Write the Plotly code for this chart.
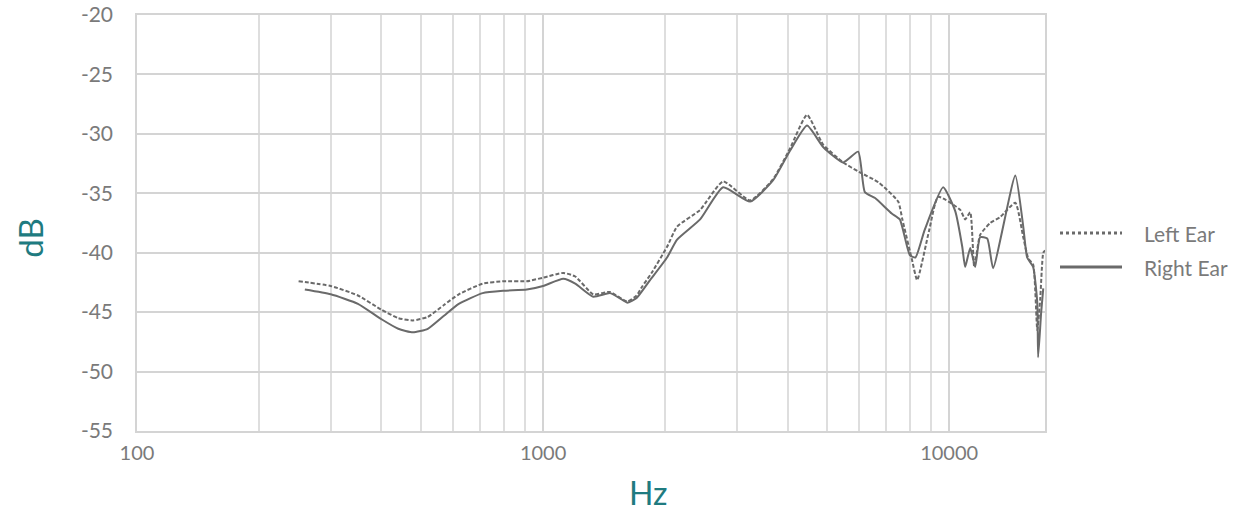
import plotly.graph_objects as go

# Frequency (Hz) and level (dB)
left_freq = [250, 300, 350, 400, 440, 478, 520, 570, 620, 710, 800, 912, 1000, 1121, 1200,
             1329, 1461, 1611, 1700, 1750, 1850, 2020, 2138, 2436, 2776, 3235, 3686, 4059,
             4468, 4893, 5480, 6000, 6710, 7490, 7670, 8100, 8340, 8930, 9397, 10650, 10950,
             11270, 11530, 11920, 12620, 13360, 14550, 15220, 15670, 16100, 16480, 16750,
             17050, 17230]
left_db = [-42.4, -42.8, -43.6, -44.8, -45.5, -45.7, -45.4, -44.4, -43.5, -42.6, -42.4, -42.4,
           -42.1, -41.7, -42.0, -43.5, -43.3, -44.1, -43.6, -42.9, -41.7, -39.5, -37.8, -36.4,
           -34.0, -35.6, -33.8, -31.2, -28.4, -30.9, -32.4, -33.2, -34.1, -35.7, -37.2, -40.6,
           -42.3, -38.1, -35.3, -36.4, -37.2, -36.6, -41.2, -38.5, -37.5, -37.0, -35.8, -38.7,
           -40.5, -41.0, -46.5, -44.0, -40.0, -39.8]

right_freq = [259, 300, 350, 400, 440, 478, 520, 570, 620, 710, 800, 912, 1000, 1121, 1200,
              1329, 1461, 1540, 1611, 1700, 1834, 2020, 2138, 2436, 2776, 3235, 3686, 4059,
              4468, 4893, 5480, 5970, 6200, 6570, 7220, 7560, 8000, 8260, 8700, 9664, 10350,
              10770, 10950, 11270, 11590, 11920, 12410, 12830, 14550, 15220, 15560, 16100,
              16480, 16560, 16850, 17050]
right_db = [-43.1, -43.5, -44.3, -45.6, -46.4, -46.7, -46.4, -45.3, -44.3, -43.4, -43.2, -43.1,
            -42.8, -42.2, -42.6, -43.7, -43.4, -43.8, -44.2, -43.8, -42.3, -40.4, -38.9, -37.2,
            -34.5, -35.7, -33.9, -31.4, -29.3, -31.1, -32.4, -31.5, -34.9, -35.4, -36.7, -37.2,
            -40.2, -40.4, -38.1, -34.5, -36.5, -39.5, -41.2, -39.6, -41.2, -38.7, -38.8, -41.3,
            -33.5, -37.8, -40.4, -41.2, -44.2, -48.8, -45.0, -43.0]

x_ticks = [100, 1000, 10000]
x_minor = [200, 300, 400, 500, 600, 700, 800, 900, 2000, 3000, 4000, 5000, 6000, 7000,
           8000, 9000]
y_ticks = [-20, -25, -30, -35, -40, -45, -50, -55]
y_labels = ["-20", "-25", "-30", "-35", "-40", "-45", "-50", "-55"]
series_names = ["Left Ear", "Right Ear"]

LINE = "#6a6a6a"
GRID = "#d4d4d4"
TEAL = "#1f7b80"
TXT = "#7a7a7a"
FONT = "Lato"

fig = go.Figure()
fig.add_trace(go.Scatter(x=left_freq, y=left_db, mode="lines", name=series_names[0],
                         line=dict(color=LINE, width=2, dash="4px,2px", shape="spline",
                                   smoothing=0.5), showlegend=False))
fig.add_trace(go.Scatter(x=right_freq, y=right_db, mode="lines", name=series_names[1],
                         line=dict(color=LINE, width=2, shape="spline", smoothing=0.5),
                         showlegend=False))

fig.update_layout(
    width=1258, height=515,
    margin=dict(l=137, r=213, t=15, b=84),
    plot_bgcolor="white", paper_bgcolor="white",
    font=dict(family=FONT, color=TXT, size=20),
    xaxis=dict(type="log", range=[2, 4.236], tickvals=x_ticks,
               ticktext=[str(v) for v in x_ticks], automargin=False,
               showgrid=True, gridcolor=GRID, gridwidth=1.5,
               minor=dict(tickvals=x_minor, showgrid=True, gridcolor="#dedede",
                          gridwidth=1.5, ticks=""),
               showline=True, linecolor=GRID, linewidth=1.5, mirror=True,
               zeroline=False, ticks="", ticklabelstandoff=3,
               tickfont=dict(size=20, color=TXT, family=FONT)),
    yaxis=dict(range=[-55, -20], tickvals=y_ticks, ticktext=y_labels, automargin=False,
               showgrid=True, gridcolor=GRID, gridwidth=1.5, showline=True,
               linecolor=GRID, linewidth=1.5, mirror=True,
               zeroline=False, ticks="", ticklabelstandoff=18,
               tickfont=dict(size=21, color=TXT, family=FONT)),
    showlegend=False,
)

# axis titles
fig.add_annotation(text="Hz", xref="paper", yref="paper", x=0.563, y=-0.149,
                   showarrow=False, font=dict(size=32, color=TEAL, family=FONT),
                   xanchor="center", yanchor="middle")
fig.add_annotation(text="dB", xref="paper", yref="paper", x=-0.118, y=0.464,
                   showarrow=False, textangle=-90, font=dict(size=33, color=TEAL, family=FONT),
                   xanchor="center", yanchor="middle")

# custom legend
def px_x(p):
    return (p - 137) / 908

def px_y(p):
    return (431 - p) / 416

for name, ypix, dash in [(series_names[0], 233, "dot"), (series_names[1], 267, "solid")]:
    fig.add_shape(type="line", xref="paper", yref="paper", x0=px_x(1060), x1=px_x(1122),
                  y0=px_y(ypix), y1=px_y(ypix),
                  line=dict(color=LINE, width=3, dash=dash))
    fig.add_annotation(text=name, xref="paper", yref="paper", x=px_x(1142), y=px_y(ypix),
                       showarrow=False, xanchor="left", yanchor="middle",
                       font=dict(size=21, color=TXT, family=FONT))

fig.write_html("out.html")
